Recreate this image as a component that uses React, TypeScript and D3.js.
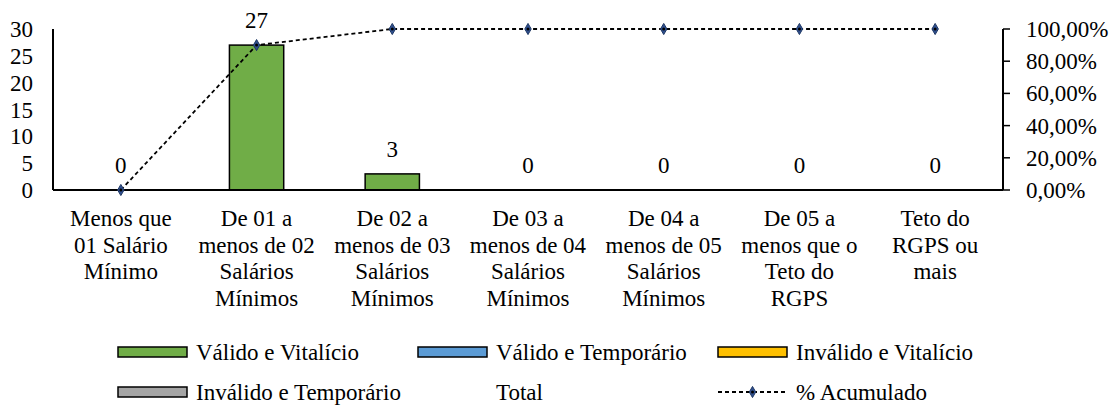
import * as React from "react";
import { scaleBand, scaleLinear, line, symbol, symbolDiamond } from "d3";

const categories = [
  ["Menos que", "01 Salário", "Mínimo"],
  ["De 01 a", "menos de 02", "Salários", "Mínimos"],
  ["De 02 a", "menos de 03", "Salários", "Mínimos"],
  ["De 03 a", "menos de 04", "Salários", "Mínimos"],
  ["De 04 a", "menos de 05", "Salários", "Mínimos"],
  ["De 05 a", "menos que o", "Teto do", "RGPS"],
  ["Teto do", "RGPS ou", "mais"],
];
const validoVitalicio = [0, 27, 3, 0, 0, 0, 0];
const totals = [0, 27, 3, 0, 0, 0, 0];
const acumulado = [0, 0.9, 1, 1, 1, 1, 1];
const leftTicks = [0, 5, 10, 15, 20, 25, 30];
const rightTicks = [0, 0.2, 0.4, 0.6, 0.8, 1];

const legendItems = [
  { name: "Válido e Vitalício", kind: "bar", color: "#70AD47" },
  { name: "Válido e Temporário", kind: "bar", color: "#5B9BD5" },
  { name: "Inválido e Vitalício", kind: "bar", color: "#FFC000" },
  { name: "Inválido e Temporário", kind: "bar", color: "#A5A5A5" },
  { name: "Total", kind: "none", color: "none" },
  { name: "% Acumulado", kind: "line", color: "#000" },
];

export default function App() {
  const left = 53;
  const right = 1003;
  const top = 29;
  const bottom = 190;

  const x = scaleBand()
    .domain(categories.map((_, i) => String(i)))
    .range([left, right]);
  const y = scaleLinear().domain([0, 30]).range([bottom, top]);
  const y2 = scaleLinear().domain([0, 1]).range([bottom, top]);
  const barW = x.bandwidth() * 0.4;
  const cx = (i) => (x(String(i)) as number) + x.bandwidth() / 2;

  const linePath = line<number>()
    .x((_, i) => cx(i))
    .y((d) => y2(d))(acumulado);
  const diamond = symbol().type(symbolDiamond).size(36)();

  const fmtPct = (v) => (v * 100).toFixed(2).replace(".", ",") + "%";

  const marker = (tx, ty, key?) => (
    <g key={key} transform={`translate(${tx},${ty})`}>
      <path d={diamond || ""} fill="#2F4F8F" stroke="#1F3864" strokeWidth={1} />
      <circle r={1.5} fill="#000" />
    </g>
  );

  return (
    <svg
      width={1111}
      height={405}
      style={{ position: "absolute", left: 0, top: 0, background: "#fff" }}
    >
      <style>{`text { font-family: "Liberation Serif", "Times New Roman", serif; font-size: 23px; fill: #000; }`}</style>
      {/* bars */}
      {validoVitalicio.map((v, i) =>
        v > 0 ? (
          <rect
            key={i}
            x={cx(i) - barW / 2}
            y={y(v)}
            width={barW}
            height={y(0) - y(v)}
            fill="#70AD47"
            stroke="#000"
            strokeWidth={1.5}
          />
        ) : null
      )}
      {/* total labels */}
      {totals.map((v, i) => (
        <text key={i} x={cx(i)} y={y(v) - 17} textAnchor="middle">
          {v}
        </text>
      ))}
      {/* axes */}
      <line x1={left} x2={left} y1={top} y2={bottom} stroke="#000" strokeWidth={2} />
      <line x1={left} x2={right} y1={bottom} y2={bottom} stroke="#000" strokeWidth={2} />
      <line x1={right} x2={right} y1={top} y2={bottom} stroke="#000" strokeWidth={2} />
      {leftTicks.map((t) => (
        <text key={t} x={33} y={y(t)} dy="0.35em" textAnchor="end">
          {t}
        </text>
      ))}
      {rightTicks.map((t) => (
        <g key={t}>
          <line x1={right} x2={right + 7} y1={y2(t)} y2={y2(t)} stroke="#000" strokeWidth={1.5} />
          <text x={1026} y={y2(t)} dy="0.35em" textAnchor="start">
            {fmtPct(t)}
          </text>
        </g>
      ))}
      {/* line */}
      <path d={linePath || ""} fill="none" stroke="#000" strokeWidth={1.8} strokeDasharray="4,3" />
      {acumulado.map((v, i) => marker(cx(i), y2(v), i))}
      {/* category labels */}
      {categories.map((lines, i) => (
        <text key={i} x={cx(i)} y={226} textAnchor="middle">
          {lines.map((l, j) => (
            <tspan key={j} x={cx(i)} dy={j === 0 ? 0 : 26.5}>
              {l}
            </tspan>
          ))}
        </text>
      ))}
      {/* legend */}
      {legendItems.map((it, k) => {
        const lx = 118 + (k % 3) * 300;
        const ly = 352 + Math.floor(k / 3) * 40;
        return (
          <g key={it.name}>
            {it.kind === "bar" && (
              <rect x={lx} y={ly - 5} width={69} height={10} fill={it.color} stroke="#000" strokeWidth={1.5} />
            )}
            {it.kind === "line" && (
              <g>
                <line x1={lx} x2={lx + 69} y1={ly} y2={ly} stroke="#000" strokeWidth={1.8} strokeDasharray="4,3" />
                {marker(lx + 34.5, ly)}
              </g>
            )}
            <text x={lx + 78} y={ly} dy="0.35em">
              {it.name}
            </text>
          </g>
        );
      })}
    </svg>
  );
}
